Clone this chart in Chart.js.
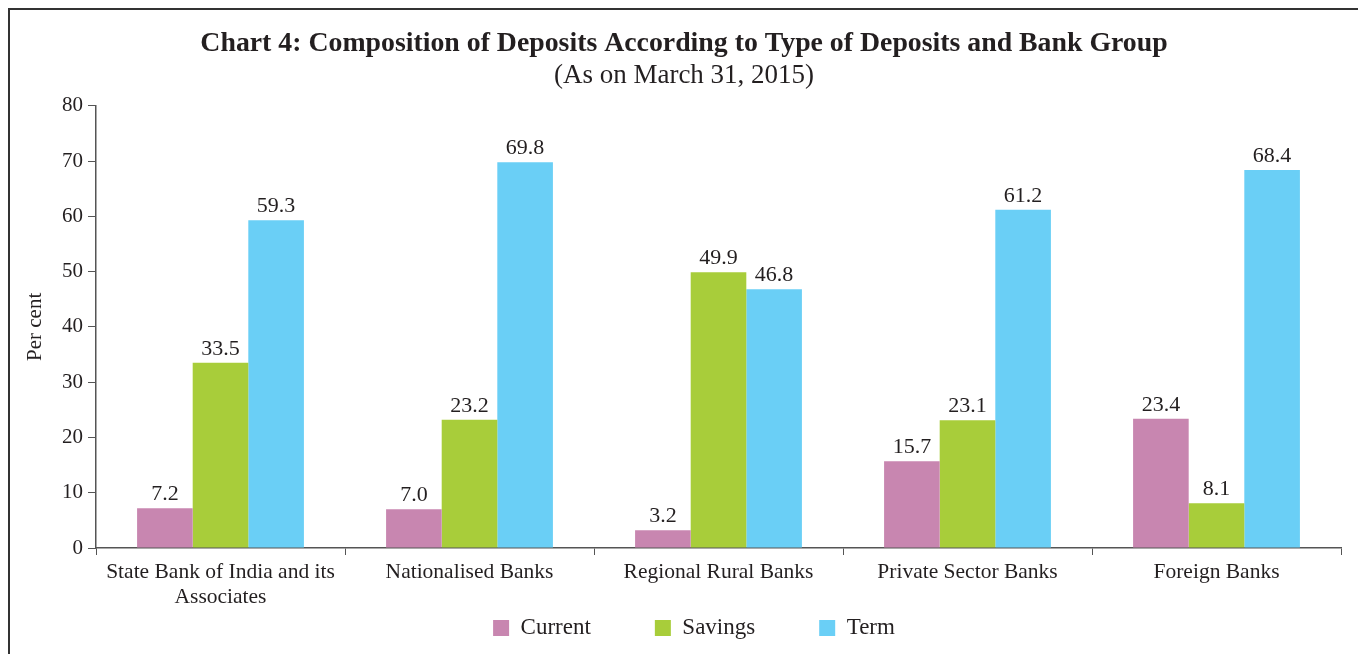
<!DOCTYPE html>
<html>
<head>
<meta charset="utf-8">
<script src="https://cdn.jsdelivr.net/npm/chart.js@4.4.1/dist/chart.umd.min.js"></script>
<style>
  html, body { margin: 0; padding: 0; background: #fff; }
  #wrap { position: relative; width: 1358px; height: 654px; overflow: hidden; }
  #frame { position: absolute; left: 8px; top: 8px; width: 1400px; height: 700px; border: 2px solid #333; box-sizing: border-box; pointer-events: none; }
  canvas { position: absolute; left: 0; top: 0; }
</style>
</head>
<body>
<div id="wrap">
  <canvas id="depositChart" width="1358" height="654"></canvas>
  <div id="frame"></div>
</div>
<script>
const categories = [
  ['State Bank of India and its', 'Associates'],
  'Nationalised Banks',
  'Regional Rural Banks',
  'Private Sector Banks',
  'Foreign Banks'
];
const currentValues = [7.2, 7.0, 3.2, 15.7, 23.4];
const savingsValues = [33.5, 23.2, 49.9, 23.1, 8.1];
const termValues = [59.3, 69.8, 46.8, 61.2, 68.4];
const yTicks = [0, 10, 20, 30, 40, 50, 60, 70, 80];

const fontFamily = '"Liberation Serif", "DejaVu Serif", serif';
const textColor = '#231f20';

// draws the value above each bar
const valueLabels = {
  id: 'valueLabels',
  afterDatasetsDraw(chart) {
    const ctx = chart.ctx;
    ctx.save();
    ctx.font = '22px ' + fontFamily;
    ctx.fillStyle = textColor;
    ctx.textAlign = 'center';
    ctx.textBaseline = 'alphabetic';
    chart.data.datasets.forEach((ds, i) => {
      chart.getDatasetMeta(i).data.forEach((bar, j) => {
        ctx.fillText(ds.data[j].toFixed(1), bar.x, bar.y - 8);
      });
    });
    ctx.restore();
  }
};

// keep the wide item spacing of the legend without its tall box
const legendBox = {
  id: 'legendBox',
  afterInit(chart) {
    const legend = chart.legend;
    if (!legend) return;
    const fit = legend.fit;
    legend.fit = function () {
      fit.call(this);
      this.height = 44;
    };
  },
  afterLayout(chart) {
    const legend = chart.legend;
    if (!legend) return;
    const pad = legend.options.labels.padding;
    legend.top = 628 - 11.5 - pad;
    legend.bottom = chart.height;
    legend.height = legend.bottom - legend.top;
    legend.left += 10;
    legend.right += 10;
  }
};

new Chart(document.getElementById('depositChart'), {
  type: 'bar',
  data: {
    labels: categories,
    datasets: [
      { label: 'Current', data: currentValues, backgroundColor: '#c886b0' },
      { label: 'Savings', data: savingsValues, backgroundColor: '#a8cd3a' },
      { label: 'Term', data: termValues, backgroundColor: '#6acff6' }
    ]
  },
  options: {
    responsive: false,
    animation: false,
    layout: { padding: { left: 27, right: 17, top: 0, bottom: 0 } },
    datasets: {
      bar: { categoryPercentage: 0.67, barPercentage: 1.0 }
    },
    plugins: {
      title: {
        display: true,
        text: 'Chart 4: Composition of Deposits According to Type of Deposits and Bank Group',
        color: textColor,
        font: { family: fontFamily, size: 27.8, weight: 'bold' },
        padding: { top: 27, bottom: 0 }
      },
      subtitle: {
        display: true,
        text: '(As on March 31, 2015)',
        color: textColor,
        font: { family: fontFamily, size: 27 },
        padding: { top: -1, bottom: 14 }
      },
      legend: {
        position: 'bottom',
        labels: {
          color: textColor,
          font: { family: fontFamily, size: 23 },
          boxWidth: 16,
          boxHeight: 16,
          padding: 64
        }
      },
      tooltip: { enabled: false }
    },
    scales: {
      x: {
        grid: {
          display: true,
          offset: true,
          drawOnChartArea: false,
          tickLength: 7,
          color: '#555'
        },
        border: { display: true, color: '#555', width: 1.5 },
        ticks: {
          color: textColor,
          font: { family: fontFamily, size: 21.5 },
          maxRotation: 0,
          autoSkip: false,
          padding: 4
        },
        afterFit(scale) { scale.height = 62; }
      },
      y: {
        min: 0,
        max: 80,
        afterBuildTicks(scale) { scale.ticks = yTicks.map(v => ({ value: v })); },
        grid: {
          display: true,
          drawOnChartArea: false,
          tickLength: 8,
          color: '#555'
        },
        border: { display: true, color: '#555', width: 1.5 },
        ticks: {
          color: textColor,
          font: { family: fontFamily, size: 21 },
          padding: 5
        },
        title: {
          display: true,
          text: 'Per cent',
          color: textColor,
          font: { family: fontFamily, size: 21 },
          padding: { top: -4, bottom: 0 }
        },
        afterFit(scale) { scale.width = 69; }
      }
    }
  },
  plugins: [valueLabels, legendBox]
});
</script>
</body>
</html>
